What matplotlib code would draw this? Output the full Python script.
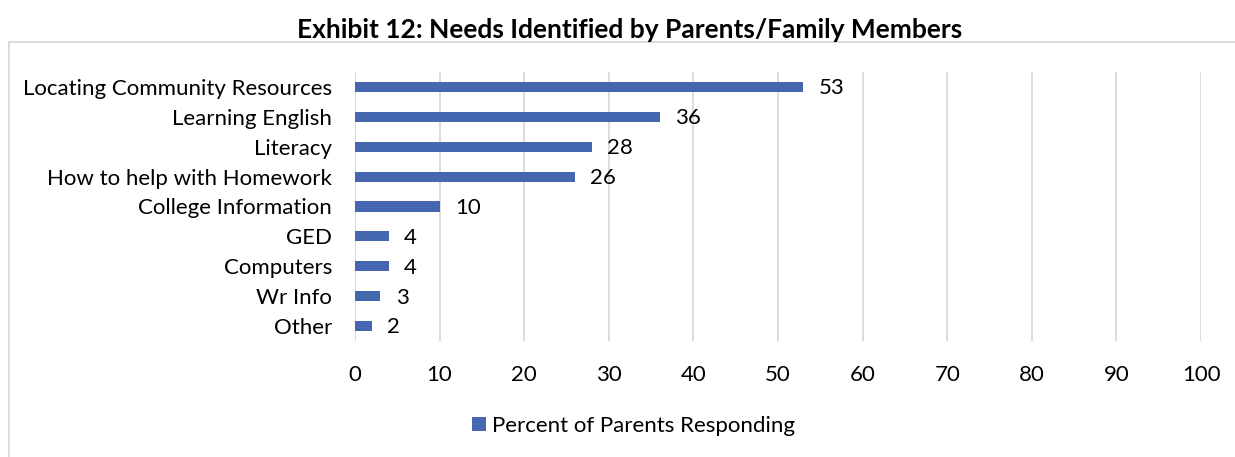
import matplotlib.pyplot as plt
from matplotlib.patches import Rectangle

needs = ["Locating Community Resources", "Learning English", "Literacy",
         "How to help with Homework", "College Information", "GED",
         "Computers", "Wr Info", "Other"]
percent = [53, 36, 28, 26, 10, 4, 4, 3, 2]
ticks = list(range(0, 101, 10))

plt.rcParams['font.family'] = ['Lato', 'DejaVu Sans']

fig = plt.figure(figsize=(12.35, 4.57), dpi=100)
ax = fig.add_axes([0.2874, 0.2538, 0.6851, 0.5887])

# chart-area border (runs off the right and bottom of the image)
fig.patches.append(Rectangle((9 / 1235, -0.2), 1.2, 1.2 - 42 / 457,
                             transform=fig.transFigure, fill=False,
                             edgecolor='#D9D9D9', linewidth=1.3))

y = list(range(len(needs)))
bars = ax.barh(y, percent, height=0.34, color='#4567B0',
               label='Percent of Parents Responding', zorder=3)
for yi, v in zip(y, percent):
    ax.annotate(str(v), (v, yi), xytext=(11, -1), textcoords='offset points',
                va='center', ha='left', fontsize=16, color='#000000')

ax.set_xlim(0, 100)
ax.set_ylim(len(needs) - 0.5, -0.5)
ax.set_xticks(ticks)
ax.set_yticks(y)
ax.set_yticklabels(needs)
ax.tick_params(length=0, labelsize=16, colors='#000000')
ax.tick_params(axis='x', pad=17)
ax.tick_params(axis='y', pad=16.5)
ax.grid(axis='x', color='#D9D9D9', linewidth=1.3, zorder=0)
for s in ax.spines.values():
    s.set_visible(False)

fig.text(0.51, 0.935, 'Exhibit 12: Needs Identified by Parents/Family Members',
         ha='center', va='center', fontsize=19, fontweight='bold')

fig.legend(handles=[bars], loc='center', bbox_to_anchor=(0.513, 0.068),
           frameon=False, fontsize=16, handlelength=0.63, handleheight=0.63,
           handletextpad=0.3)

fig.savefig('out.png', dpi=100)
